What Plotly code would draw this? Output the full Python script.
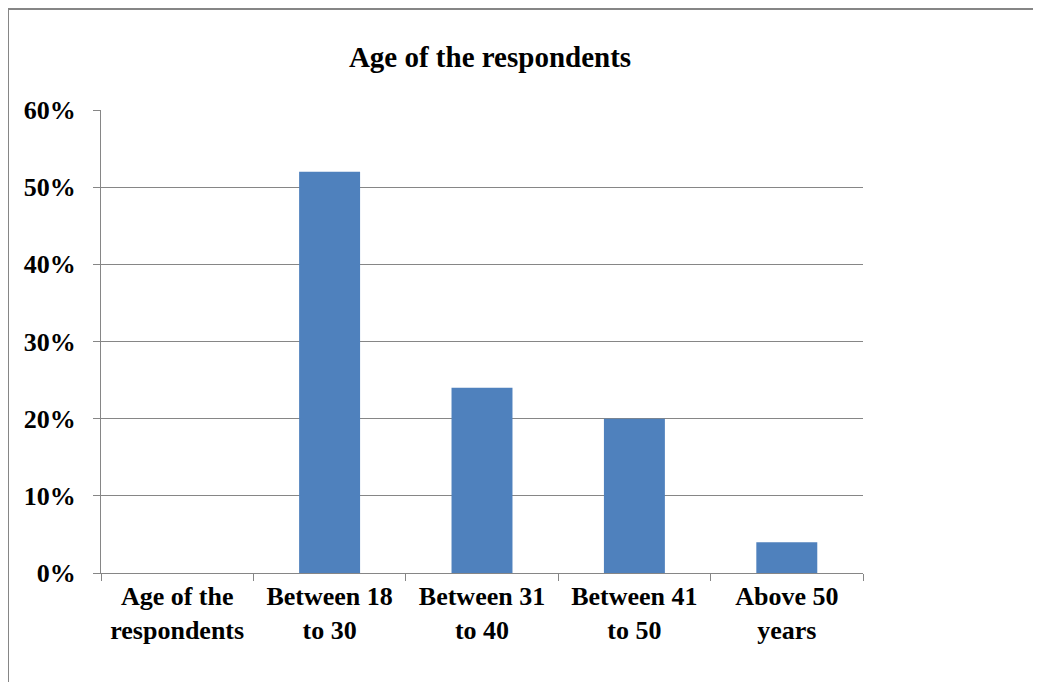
import plotly.graph_objects as go

categories = ["Age of the<br>respondents", "Between 18<br>to 30", "Between 31<br>to 40",
              "Between 41<br>to 50", "Above 50<br>years"]
shares = [0.0, 0.52, 0.24, 0.20, 0.04]

FONT = "Liberation Serif"
GRID = "#868686"

# the page body adds an 8px offset, so margins are shifted by that much
fig = go.Figure()

fig.add_trace(
    go.Bar(
        x=categories,
        y=shares,
        marker_color="#4F81BD",
        marker_line_width=0,
    )
)

fig.update_layout(
    width=1041,
    height=682,
    paper_bgcolor="white",
    plot_bgcolor="white",
    margin=dict(l=93, r=186, t=102, b=117),
    bargap=0.6,
    showlegend=False,
    font=dict(family=FONT, size=26, color="black"),
    title=dict(
        text="<b>Age of the respondents</b>",
        x=482 / 1041,
        xanchor="center",
        xref="container",
        y=1 - 49 / 682,
        yanchor="middle",
        yref="container",
        font=dict(family=FONT, size=29, color="black"),
    ),
)

fig.update_yaxes(
    range=[0, 0.6],
    dtick=0.1,
    tickformat=".0%",
    tickprefix="<b>",
    ticksuffix="</b>",
    showgrid=True,
    gridcolor=GRID,
    gridwidth=1,
    showline=True,
    linecolor=GRID,
    linewidth=1,
    ticks="outside",
    ticklen=7,
    tickcolor=GRID,
    ticklabelstandoff=12,
    zeroline=False,
    tickfont=dict(family=FONT, size=26),
)

fig.update_xaxes(
    tickson="boundaries",
    ticks="outside",
    ticklen=7,
    tickcolor=GRID,
    showline=True,
    linecolor=GRID,
    linewidth=1,
    showgrid=False,
    tickprefix="<b>",
    ticksuffix="</b>",
    tickfont=dict(family=FONT, size=26),
    tickangle=0,
)

# chart frame (only left and top edges fall inside the picture)
fig.add_shape(type="line", xref="paper", yref="paper",
              x0=-93 / 762, x1=-93 / 762, y0=1 + 101 / 463, y1=-1,
              line=dict(color=GRID, width=2))
fig.add_shape(type="line", xref="paper", yref="paper",
              x0=-93 / 762, x1=2, y0=1 + 101 / 463, y1=1 + 101 / 463,
              line=dict(color=GRID, width=2))

fig.write_html("out.html")
